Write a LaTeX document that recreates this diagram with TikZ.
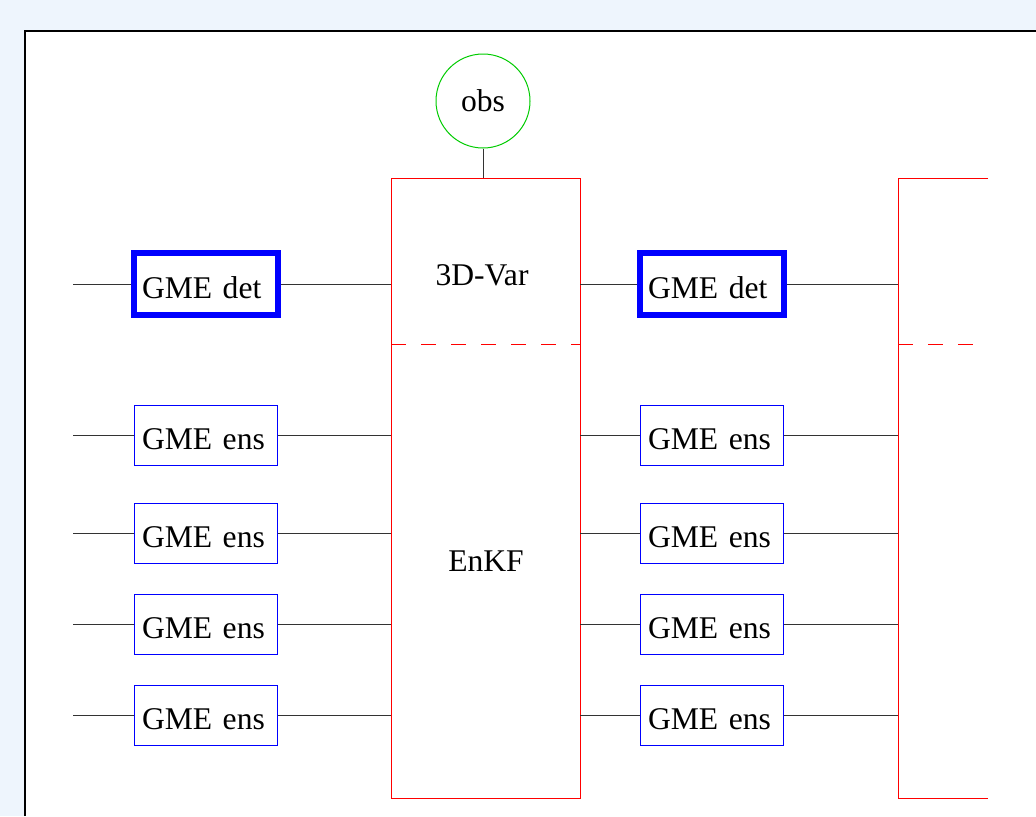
\documentclass[tikz,border=0pt]{standalone}
\usepackage{fontspec}
\setmainfont{Liberation Serif}
\usetikzlibrary{positioning,calc}
\definecolor{pagebg}{RGB}{238,245,253}
\definecolor{obsgreen}{RGB}{0,204,0}

\begin{document}
\begin{tikzpicture}[
    x=0.5pt, y=-0.5pt,
    font=\fontsize{15.8}{19}\selectfont,
    detblock/.style = {rectangle, draw=blue, line width=3pt, minimum width=72pt, minimum height=31pt, inner ysep=0pt, inner xsep=4pt, text width=64pt, align=left, text height=14.5pt, text depth=0pt},
    ensblock/.style = {rectangle, draw=blue, line width=0.5pt, minimum width=71.5pt, minimum height=30pt, inner ysep=0pt, inner xsep=4pt, text width=63.5pt, align=left, text height=14.5pt, text depth=0pt},
    filterblock/.style = {rectangle, draw=red, line width=0.5pt, minimum width=94.5pt, minimum height=310pt, inner sep=0pt, outer sep=0pt},
    obsnode/.style = {circle, draw=obsgreen, line width=0.5pt, minimum size=47pt, inner sep=0pt},
    link/.style = {draw=black!80, line width=0.5pt},
    splitline/.style = {draw=red, line width=0.5pt, dash pattern=on 7.5pt off 7.5pt},
    ]

        % Frame
        \useasboundingbox[fill=pagebg] (0,0) rectangle (1036,816);
        \fill[white] (25,31) rectangle (1036,816);
        \draw[line width=1.2pt] (25,816) -- (25,31) -- (1036,31);

        % Nodes
        \node[filterblock] (filter1) at (485.5,488) {};
        \node[filterblock, minimum width=45pt, draw=none] (filter2) at (943,488) {};
        \node[obsnode] (obs) at (483,101) {obs};
        \node at (482,275) {3D-Var};
        \node at (486,561) {EnKF};
        %
        \node[detblock] (detL) at (206,284) {GME det};
        \node[detblock, right=178pt of detL] (detR) {GME det};
        %
        \node[ensblock] (ensL1) at (205.5,435) {GME ens};
        \node[ensblock, below=18.5pt of ensL1] (ensL2) {GME ens};
        \node[ensblock, below=15pt of ensL2] (ensL3) {GME ens};
        \node[ensblock, below=15pt of ensL3] (ensL4) {GME ens};
        \foreach \i in {1,...,4}
            \node[ensblock, right=181pt of ensL\i] (ensR\i) {GME ens};
        %
        \coordinate (leftend) at (73,0);
        \coordinate (split) at (0,344);

        % Draw
        \draw[red, line width=0.5pt] (filter2.north east) -- (filter2.north west) -- (filter2.south west) -- (filter2.south east);
        \draw[splitline] (filter1.west |- split) -- (filter1.east |- split);
        \draw[splitline] (filter2.west |- split) -- (filter2.east |- split);
        \draw[link] (obs.south) -- (obs.south |- filter1.north);
        \draw[link] (detL -| leftend) -- (detL);
        \draw[link] (detL) -- (detL -| filter1.west);
        \draw[link] (detR -| filter1.east) -- (detR);
        \draw[link] (detR) -- (detR -| filter2.west);
        \foreach \i in {1,...,4} {
            \draw[link] (ensL\i -| leftend) -- (ensL\i);
            \draw[link] (ensL\i) -- (ensL\i -| filter1.west);
            \draw[link] (ensR\i -| filter1.east) -- (ensR\i);
            \draw[link] (ensR\i) -- (ensR\i -| filter2.west);
        }
    \end{tikzpicture}
\end{document}
